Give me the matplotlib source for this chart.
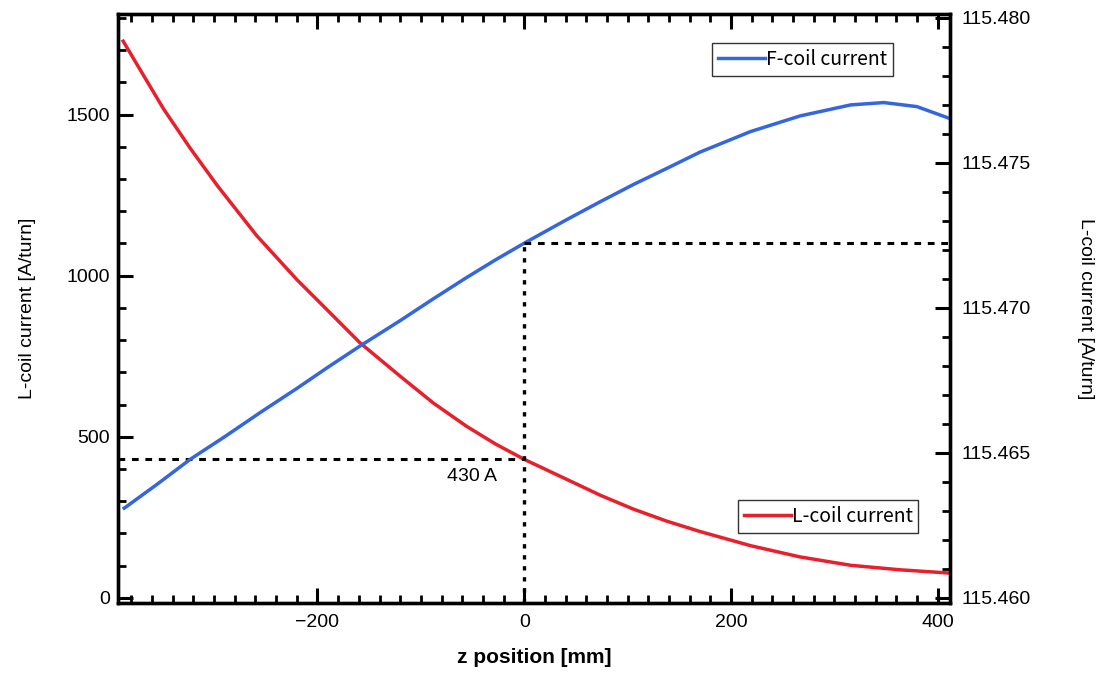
import matplotlib.pyplot as plt
from matplotlib.ticker import MultipleLocator, FormatStrFormatter

# L-coil current (left axis)
z_L = [-388, -368, -349, -323, -297, -259, -220, -191, -159, -120, -88, -56, -28,
       0, 41, 74, 106, 138, 170, 219, 267, 316, 364, 411]
i_L = [1728, 1620, 1518, 1395, 1280, 1125, 988, 895, 792, 688, 605, 533, 478,
       430, 368, 318, 275, 238, 206, 162, 127, 101, 87, 77]

# F-coil current (right axis)
z_F = [-387, -355, -323, -290, -255, -220, -190, -159, -120, -88, -56, -28,
       0, 41, 73, 106, 138, 170, 219, 267, 316, 348, 380, 411]
i_F = [115.46309, 115.46392, 115.46478, 115.46555, 115.46640, 115.46722,
       115.46795, 115.46868, 115.46956, 115.47031, 115.47104, 115.47165,
       115.47223, 115.47304, 115.47365, 115.47426, 115.47481, 115.47537,
       115.47608, 115.47662, 115.47700, 115.47708, 115.47694, 115.47654]

# reference point at z = 0
z_ref = 0
L_ref = 430
F_ref = 115.47223

xlim = (-393, 412)
ylim_L = (-16, 1812)
ylim_F = (115.45982, 115.48013)

red = '#e8202c'
blue = '#3466e0'
font = ['Liberation Sans', 'DejaVu Sans']

fig = plt.figure(figsize=(11.02, 6.73), dpi=100)
ax = fig.add_axes([0.1071, 0.104, 0.755, 0.875])
ax2 = ax.twinx()

lL, = ax.plot(z_L, i_L, color=red, lw=2.5, label='L-coil current')
lF, = ax2.plot(z_F, i_F, color=blue, lw=2.5, label='F-coil current')

# guide lines
ax.plot([xlim[0], z_ref], [L_ref, L_ref], color='k', lw=2.2, dashes=(2.2, 2.2))
ax2.plot([z_ref, z_ref], [ylim_F[0], F_ref], color='k', lw=2.4, dashes=(1.3, 2.0))
ax2.plot([z_ref, xlim[1]], [F_ref, F_ref], color='k', lw=2.2, dashes=(2.2, 2.2))
ax.text(-26, 378, '430 A', ha='right', va='center', fontsize=14, family=font)

ax.set_xlim(*xlim)
ax.set_ylim(*ylim_L)
ax2.set_ylim(*ylim_F)

ax.xaxis.set_major_locator(MultipleLocator(200))
ax.xaxis.set_minor_locator(MultipleLocator(20))
ax.yaxis.set_major_locator(MultipleLocator(500))
ax.yaxis.set_minor_locator(MultipleLocator(100))
ax2.yaxis.set_major_locator(MultipleLocator(0.005))
ax2.yaxis.set_minor_locator(MultipleLocator(0.001))
ax2.yaxis.set_major_formatter(FormatStrFormatter('%.3f'))

for a in (ax, ax2):
    for s in a.spines.values():
        s.set_linewidth(2.4)
    a.tick_params(which='major', direction='in', length=11, width=2.2)
    a.tick_params(which='minor', direction='in', length=6, width=2.0)

ax.tick_params(axis='x', which='both', top=True)
ax.tick_params(axis='y', labelsize=14, pad=6)
ax2.tick_params(axis='y', labelsize=14, pad=8)
ax.tick_params(axis='x', labelsize=14, pad=8)
for t in ax.get_yticklabels() + ax2.get_yticklabels() + ax.get_xticklabels():
    t.set_family(font)

ax.set_xlabel('z position [mm]', fontsize=15, fontweight='bold', labelpad=12, family=font)
ax.set_ylabel('L-coil current [A/turn]', fontsize=14, labelpad=22, family=font)
ax2.set_ylabel('L-coil current [A/turn]', fontsize=14, rotation=270, labelpad=46, family=font)

leg_kw = dict(frameon=True, fancybox=False, handlelength=2.4,
              handletextpad=0.05, borderpad=0.3, borderaxespad=0,
              prop={'family': ['Noto Sans CJK JP', 'DejaVu Sans'], 'size': 14})
legF = ax2.legend(handles=[lF], loc='upper right', bbox_to_anchor=(0.931, 0.951), **leg_kw)
legF.get_frame().set_edgecolor('k')
legF.get_frame().set_linewidth(1.0)
ax2.add_artist(legF)
legL = ax2.legend(handles=[lL], loc='upper right', bbox_to_anchor=(0.962, 0.175), **leg_kw)
legL.get_frame().set_edgecolor('k')
legL.get_frame().set_linewidth(1.0)

fig.savefig('out.png', dpi=100)
